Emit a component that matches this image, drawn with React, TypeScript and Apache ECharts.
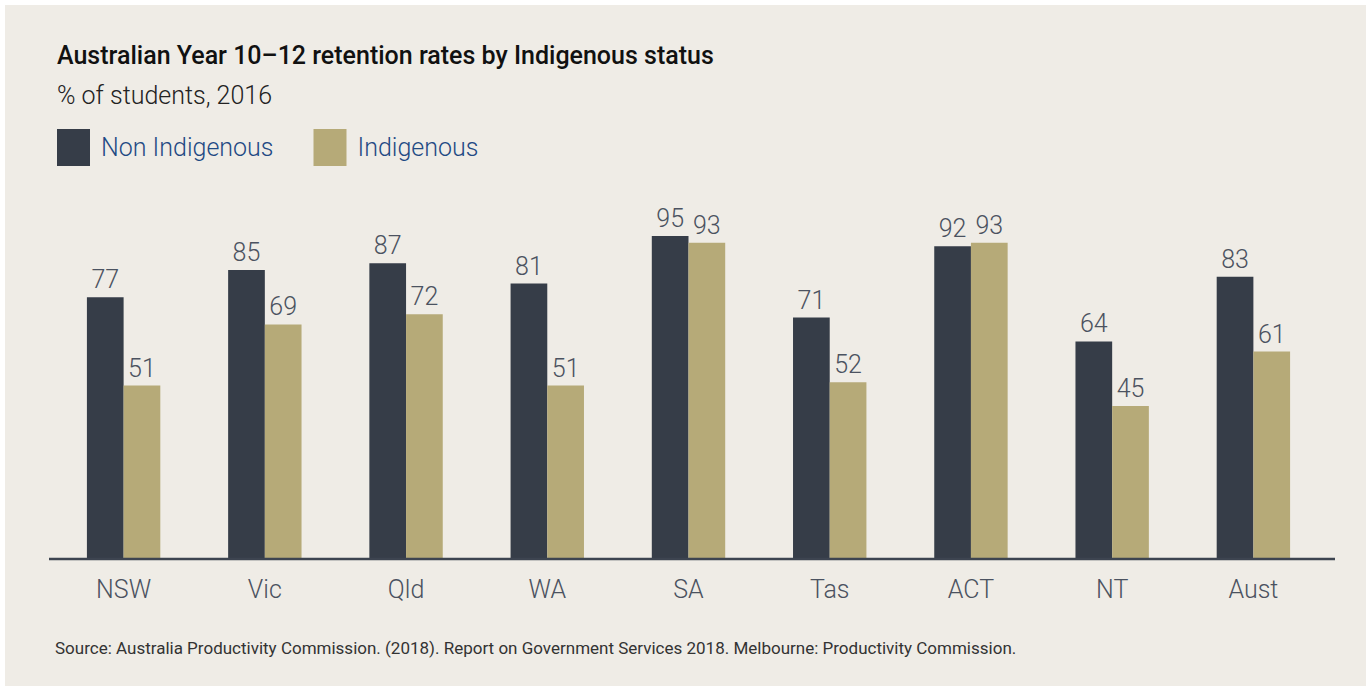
import React, { useEffect, useRef } from "react";
import * as echarts from "echarts";

const categories = ["NSW", "Vic", "Qld", "WA", "SA", "Tas", "ACT", "NT", "Aust"];
const nonIndigenous = [77, 85, 87, 81, 95, 71, 92, 64, 83];
const indigenous = [51, 69, 72, 51, 93, 52, 93, 45, 61];
const seriesNames = ["Non Indigenous", "Indigenous"];
const titleText = "Australian Year 10\u201312 retention rates by Indigenous status";
const subtitleText = "% of students, 2016";
const sourceText =
  "Source: Australia Productivity Commission. (2018). Report on Government Services 2018. Melbourne: Productivity Commission.";

const DARK = "#363d48";
const GOLD = "#b6aa78";
const BG = "#efece6";
const LABEL = "#4b5260";
const FONT = "Roboto, 'Noto Sans', sans-serif";

export default function App() {
  const ref = useRef<HTMLDivElement>(null);
  useEffect(() => {
    document.body.style.margin = "0";
    const chart = echarts.init(ref.current!, null, { renderer: "svg" });
    const labelStyle = {
      show: true,
      position: "top" as const,
      distance: 5,
      fontSize: 25,
      fontFamily: FONT,
      fontWeight: 300,
      color: LABEL,
    };
    chart.setOption({
      animation: false,
      backgroundColor: "#ffffff",
      textStyle: { fontFamily: FONT },
      graphic: [
        {
          type: "rect",
          z: -10,
          silent: true,
          shape: { x: 5, y: 5, width: 1361, height: 681 },
          style: { fill: BG },
        },
        {
          type: "line",
          z: 10,
          shape: { x1: 49, y1: 559, x2: 1335, y2: 559 },
          style: { stroke: "#3d4450", lineWidth: 2.5 },
        },
        {
          type: "text",
          left: 55,
          top: 639,
          style: {
            text: sourceText,
            fontSize: 17,
            fontFamily: FONT,
            fill: "#333333",
          },
        },
      ],
      title: [
        {
          text: titleText,
          left: 52,
          top: 38,
          textStyle: { fontSize: 25, fontWeight: 500, color: "#111111", fontFamily: FONT },
        },
        {
          text: subtitleText,
          left: 52,
          top: 78,
          textStyle: { fontSize: 25, fontWeight: 300, color: "#222222", fontFamily: FONT },
        },
      ],
      legend: {
        left: 52,
        top: 124,
        itemWidth: 33,
        itemHeight: 37,
        itemGap: 40,
        icon: "rect",
        data: seriesNames,
        textStyle: {
          fontSize: 25,
          fontWeight: 300,
          color: "#1f4a84",
          fontFamily: FONT,
          padding: [0, 0, 0, 6],
        },
      },
      grid: { left: 53, width: 1271, top: 219, height: 340 },
      xAxis: {
        type: "category",
        data: categories,
        axisLine: { show: false },
        axisTick: { show: false },
        axisLabel: {
          fontSize: 25,
          fontWeight: 300,
          color: LABEL,
          fontFamily: FONT,
          margin: 18,
        },
      },
      yAxis: {
        type: "value",
        min: 0,
        max: 100,
        show: false,
        splitLine: { show: false },
      },
      series: [
        {
          name: seriesNames[0],
          type: "bar",
          data: nonIndigenous,
          barWidth: 36.7,
          barGap: "0%",
          itemStyle: { color: DARK },
          label: labelStyle,
        },
        {
          name: seriesNames[1],
          type: "bar",
          data: indigenous,
          barWidth: 36.7,
          barGap: "0%",
          itemStyle: { color: GOLD },
          label: labelStyle,
        },
      ],
    });
    return () => chart.dispose();
  }, []);
  return <div ref={ref} style={{ width: 1371, height: 688 }} />;
}
